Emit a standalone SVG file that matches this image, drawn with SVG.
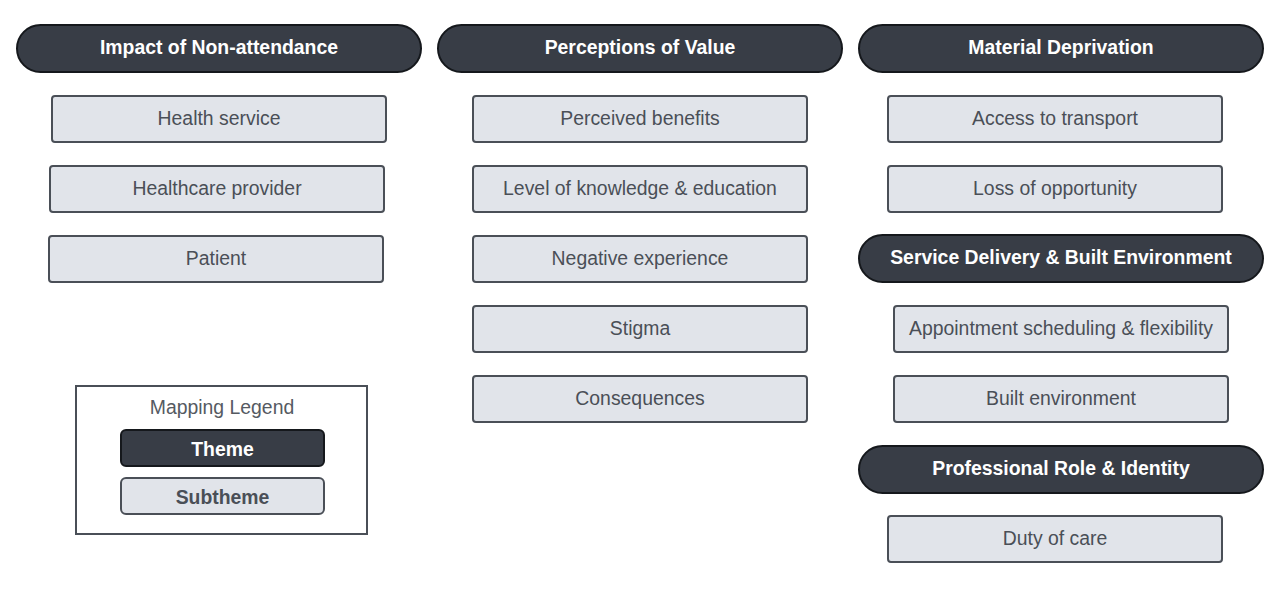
<svg xmlns="http://www.w3.org/2000/svg" width="1280" height="593" viewBox="0 0 1280 593">
<style>
.theme rect{fill:#383d46;stroke:#15181c;stroke-width:2}
.theme text{fill:#ffffff;font-family:"Liberation Sans",Arial,sans-serif;font-size:19.4px;font-weight:bold;text-anchor:middle}
.sub rect{fill:#e1e4ea;stroke:#4a4f57;stroke-width:2}
.sub text{fill:#4a4f57;font-family:"Liberation Sans",Arial,sans-serif;font-size:19.4px;text-anchor:middle}
.legend-title{fill:#555a62;font-family:"Liberation Sans",Arial,sans-serif;font-size:19.4px;text-anchor:middle}
</style>
<rect width="1280" height="593" fill="#ffffff"/>
<g id="connectors"></g>

<g id="t1" class="theme"><rect x="17" y="25" width="404" height="47" rx="23.5"/><text x="219" y="53.5">Impact of Non-attendance</text></g>
<g id="t2" class="theme"><rect x="438" y="25" width="404" height="47" rx="23.5"/><text x="640" y="53.5">Perceptions of Value</text></g>
<g id="t3" class="theme"><rect x="859" y="25" width="404" height="47" rx="23.5"/><text x="1061" y="53.5">Material Deprivation</text></g>
<g id="t4" class="theme"><rect x="859" y="235" width="404" height="47" rx="23.5"/><text x="1061" y="263.5">Service Delivery &amp; Built Environment</text></g>
<g id="t5" class="theme"><rect x="859" y="446" width="404" height="47" rx="23.5"/><text x="1061" y="474.5">Professional Role &amp; Identity</text></g>

<g id="s1" class="sub"><rect x="52" y="96" width="334" height="46" rx="3"/><text x="219" y="125">Health service</text></g>
<g id="s2" class="sub"><rect x="50" y="166" width="334" height="46" rx="3"/><text x="217" y="195">Healthcare provider</text></g>
<g id="s3" class="sub"><rect x="49" y="236" width="334" height="46" rx="3"/><text x="216" y="265">Patient</text></g>

<g id="s4" class="sub"><rect x="473" y="96" width="334" height="46" rx="3"/><text x="640" y="125">Perceived benefits</text></g>
<g id="s5" class="sub"><rect x="473" y="166" width="334" height="46" rx="3"/><text x="640" y="195">Level of knowledge &amp; education</text></g>
<g id="s6" class="sub"><rect x="473" y="236" width="334" height="46" rx="3"/><text x="640" y="265">Negative experience</text></g>
<g id="s7" class="sub"><rect x="473" y="306" width="334" height="46" rx="3"/><text x="640" y="335">Stigma</text></g>
<g id="s8" class="sub"><rect x="473" y="376" width="334" height="46" rx="3"/><text x="640" y="405">Consequences</text></g>

<g id="s9" class="sub"><rect x="888" y="96" width="334" height="46" rx="3"/><text x="1055" y="125">Access to transport</text></g>
<g id="s10" class="sub"><rect x="888" y="166" width="334" height="46" rx="3"/><text x="1055" y="195">Loss of opportunity</text></g>
<g id="s11" class="sub"><rect x="894" y="306" width="334" height="46" rx="3"/><text x="1061" y="335">Appointment scheduling &amp; flexibility</text></g>
<g id="s12" class="sub"><rect x="894" y="376" width="334" height="46" rx="3"/><text x="1061" y="405">Built environment</text></g>
<g id="s13" class="sub"><rect x="888" y="516" width="334" height="46" rx="3"/><text x="1055" y="545">Duty of care</text></g>

<g id="legend">
<rect x="76" y="386" width="291" height="148" fill="#ffffff" stroke="#4a4f57" stroke-width="2"/>
<text class="legend-title" x="222" y="414">Mapping Legend</text>
<g class="theme"><rect x="121" y="430" width="203" height="36" rx="5"/><text x="222.5" y="456">Theme</text></g>
<g class="sub"><rect x="121" y="478" width="203" height="36" rx="5"/><text x="222.5" y="504" font-weight="bold">Subtheme</text></g>
</g>
</svg>
